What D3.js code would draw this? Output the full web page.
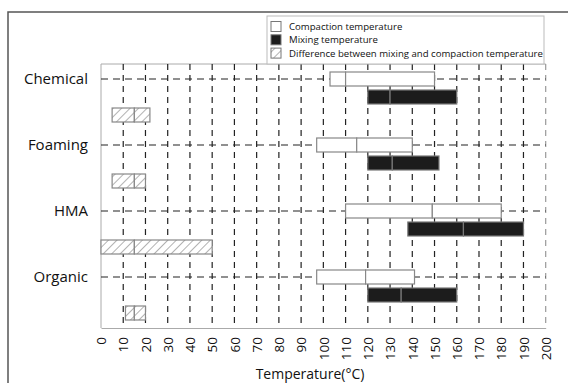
<!DOCTYPE html>
<html>
<head>
<meta charset="utf-8">
<script src="https://cdn.jsdelivr.net/npm/d3@7"></script>
<style>
  body { margin: 0; background: #fff; }
  svg { display: block; font-family: "Open Sans", sans-serif; }
</style>
</head>
<body>
<svg id="chart" width="568" height="383"></svg>
<script>
// data: each bar is low -> mid -> high (°C)
const categories = ["Chemical", "Foaming", "HMA", "Organic"];
const compactionLow  = [103, 97, 110, 97];
const compactionMid  = [110, 115, 149, 119];
const compactionHigh = [150, 140, 180, 141];
const mixingLow  = [120, 120, 138, 120];
const mixingMid  = [130, 131, 163, 135];
const mixingHigh = [160, 152, 190, 160];
const diffLow  = [5, 5, 0, 11];
const diffMid  = [15, 15, 15, 15];
const diffHigh = [22, 20, 50, 20];
const xTicks = d3.range(0, 201, 10);
const legendLabels = ["Compaction temperature", "Mixing temperature", "Difference between mixing and compaction temperature"];

const svg = d3.select("#chart");
const W = 568, H = 383;
const margin = {left: 101, right: 22.3, top: 64, bottom: 55};

let x = d3.scaleLinear().domain([0, 200]).range([margin.left, W - margin.right]);
let y = d3.scaleBand().domain(categories).range([margin.top, H - margin.bottom]);

let defs = svg.append("defs");
let pat = defs.append("pattern")
  .attr("id", "hatch")
  .attr("patternUnits", "userSpaceOnUse")
  .attr("width", 6).attr("height", 6)
  .attr("patternTransform", "rotate(45)");
pat.append("rect").attr("width", 6).attr("height", 6).attr("fill", "#fff");
pat.append("line").attr("x1", 0).attr("y1", 0).attr("x2", 0).attr("y2", 6)
  .attr("stroke", "#666").attr("stroke-width", 1);

// outer frame
svg.append("rect")
  .attr("x", 8).attr("y", 12)
  .attr("width", W + 20).attr("height", H + 20)
  .attr("fill", "none").attr("stroke", "#555").attr("stroke-width", 1.5);

// plot frame: top, left solid grey
svg.append("line")
  .attr("x1", margin.left).attr("x2", W - margin.right)
  .attr("y1", margin.top).attr("y2", margin.top)
  .attr("stroke", "#aaa");
svg.append("line")
  .attr("x1", margin.left).attr("x2", margin.left)
  .attr("y1", margin.top).attr("y2", H - margin.bottom)
  .attr("stroke", "#aaa");

// vertical grid lines
svg.append("g").selectAll("line")
  .data(xTicks.filter(d => d > 0))
  .enter().append("line")
  .attr("x1", d => x(d)).attr("x2", d => x(d))
  .attr("y1", margin.top).attr("y2", H - margin.bottom)
  .attr("stroke", d => d === 200 ? "#999" : "#222")
  .attr("stroke-width", 1.2)
  .attr("stroke-dasharray", "6,5");

// horizontal category lines
const catOff = 15, mixOff = 33, diffOff = 51, barH = 14;
svg.append("g").selectAll("line")
  .data(categories)
  .enter().append("line")
  .attr("x1", margin.left).attr("x2", W - margin.right)
  .attr("y1", d => y(d) + catOff).attr("y2", d => y(d) + catOff)
  .attr("stroke", "#222")
  .attr("stroke-width", 1.2)
  .attr("stroke-dasharray", "7,5");

// bars
function drawBars(low, mid, high, off, fill, stroke) {
  let g = svg.append("g");
  categories.forEach((c, i) => {
    let segs = [[low[i], mid[i]], [mid[i], high[i]]];
    segs.forEach(s => {
      g.append("rect")
        .attr("x", x(s[0]))
        .attr("y", y(c) + off - barH / 2)
        .attr("width", x(s[1]) - x(s[0]))
        .attr("height", barH)
        .attr("fill", fill)
        .attr("stroke", stroke)
        .attr("stroke-width", 1.2);
    });
  });
}
drawBars(compactionLow, compactionMid, compactionHigh, catOff, "#fff", "#888");
drawBars(mixingLow, mixingMid, mixingHigh, mixOff, "#1c1c1c", "#777");
drawBars(diffLow, diffMid, diffHigh, diffOff, "url(#hatch)", "#888");

// x axis
let xAxis = svg.append("g")
  .attr("transform", "translate(0," + (H - margin.bottom) + ")")
  .call(d3.axisBottom(x).tickValues(xTicks).tickSize(0).tickPadding(0));
xAxis.select(".domain").attr("stroke", "#aaa");
xAxis.selectAll("text")
  .attr("transform", "rotate(-90)")
  .attr("text-anchor", "end")
  .attr("x", -9).attr("y", 0).attr("dy", "0.35em")
  .style("font-size", "13.5px")
  .style("font-family", "Open Sans, sans-serif")
  .attr("fill", "#111");

svg.append("text")
  .attr("x", 310).attr("y", 379)
  .attr("text-anchor", "middle")
  .style("font-size", "14px")
  .attr("fill", "#111")
  .text("Temperature(°C)");

// category labels
svg.append("g").selectAll("text")
  .data(categories)
  .enter().append("text")
  .attr("x", 88)
  .attr("y", d => y(d) + catOff)
  .attr("dy", "0.35em")
  .attr("text-anchor", "end")
  .style("font-size", "15px")
  .style("font-weight", 500)
  .attr("fill", "#111")
  .text(d => d);

// legend
let lg = svg.append("g");
lg.append("rect")
  .attr("x", 267).attr("y", 16)
  .attr("width", 277).attr("height", 48)
  .attr("fill", "#fff").attr("stroke", "#bbb");
let fills = ["#fff", "#1c1c1c", "url(#hatch)"];
legendLabels.forEach((t, i) => {
  lg.append("rect")
    .attr("x", 271).attr("y", 21.5 + i * 13.3)
    .attr("width", 10).attr("height", 10)
    .attr("fill", fills[i]).attr("stroke", "#777");
  lg.append("text")
    .attr("x", 289).attr("y", 26.7 + i * 13.3)
    .attr("dy", "0.35em")
    .style("font-size", "9.6px")
    .attr("fill", "#111")
    .text(t);
});
</script>
</body>
</html>
